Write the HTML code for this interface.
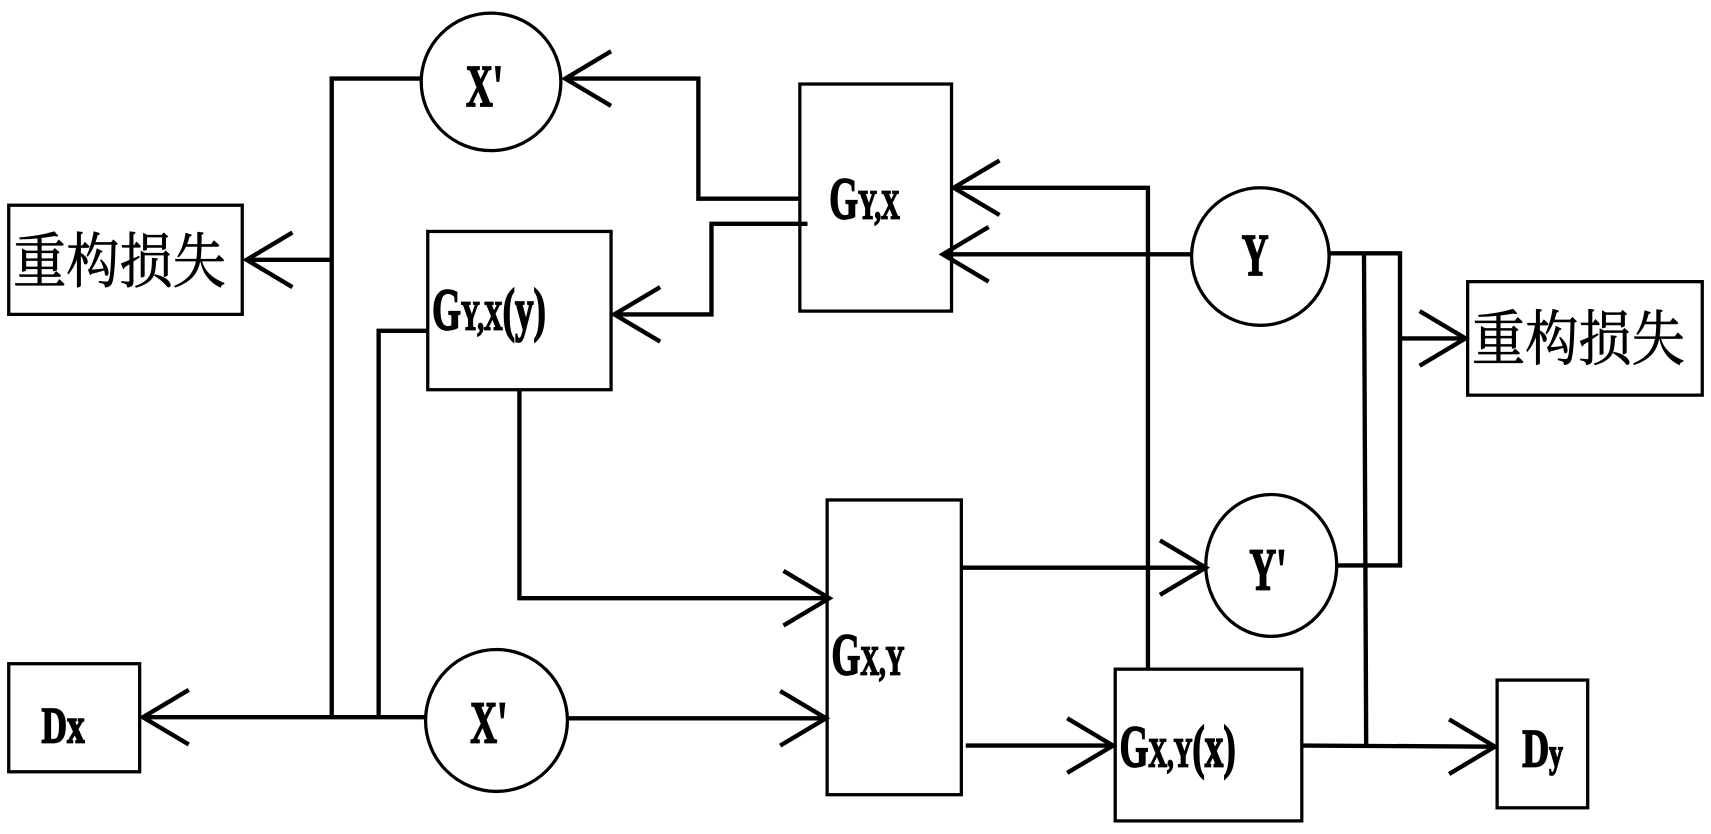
<!DOCTYPE html>
<html><head><meta charset="utf-8"><style>
html,body{margin:0;padding:0;background:#fff;}
svg{display:block;}
text{font-family:"Liberation Serif","Noto Serif CJK SC",serif;font-weight:bold;fill:#000;stroke:#000;stroke-width:1.2;}
.cn{font-family:"Liberation Serif","Noto Serif CJK SC","Noto Sans CJK SC",serif;font-weight:normal;stroke-width:0.6;}
</style></head><body>
<svg width="1711" height="834" viewBox="0 0 1568 764" preserveAspectRatio="none" xmlns="http://www.w3.org/2000/svg">
<g fill="none" stroke="#000" stroke-width="4">
<rect x="8" y="188" width="214" height="100" stroke-width="3"/>
<rect x="733" y="77" width="139" height="208" stroke-width="3"/>
<rect x="392" y="212" width="168" height="145" stroke-width="3"/>
<rect x="758" y="458" width="123" height="270" stroke-width="3"/>
<rect x="8" y="608" width="120" height="99" stroke-width="3"/>
<rect x="1022" y="613" width="171" height="139" stroke-width="3"/>
<rect x="1345" y="258" width="215" height="104" stroke-width="3"/>
<rect x="1372" y="623" width="83" height="117" stroke-width="3"/>
<ellipse cx="450" cy="75" rx="64" ry="63" stroke-width="3"/>
<ellipse cx="455" cy="660" rx="65" ry="65" stroke-width="3"/>
<ellipse cx="1155" cy="235" rx="63" ry="63" stroke-width="3"/>
<ellipse cx="1165" cy="518" rx="60" ry="65" stroke-width="3"/>
<polyline points="387,72 304,72 304,657"/>
<line x1="304" y1="238" x2="226" y2="238"/>
<polyline points="733,182 640,182 640,72 518,72"/>
<polyline points="740,205 652,205 652,288 563,288"/>
<polyline points="392,303 347,303 347,657"/>
<line x1="390" y1="657" x2="131" y2="657"/>
<polyline points="476,357 476,548 760,548"/>
<line x1="520" y1="658" x2="757" y2="658"/>
<line x1="881" y1="520" x2="1105" y2="520"/>
<line x1="885" y1="683" x2="1020" y2="683"/>
<polyline points="1052,613 1052,172 874,172"/>
<line x1="1092" y1="233" x2="864" y2="233"/>
<polyline points="1218,232 1283,232 1283,518 1225,518"/>
<line x1="1283" y1="310" x2="1343" y2="310"/>
<line x1="1250" y1="232" x2="1252" y2="682"/>
<line x1="1193" y1="683" x2="1370" y2="684"/>
<polyline points="560,47 518,72 560,97"/>
<polyline points="268,213 226,238 268,263"/>
<polyline points="605,263 563,288 605,313"/>
<polyline points="173,632 131,657 173,682"/>
<polyline points="718,523 760,548 718,573"/>
<polyline points="715,633 757,658 715,683"/>
<polyline points="1063,495 1105,520 1063,545"/>
<polyline points="978,658 1020,683 978,708"/>
<polyline points="916,147 874,172 916,197"/>
<polyline points="906,208 864,233 906,258"/>
<polyline points="1301,285 1343,310 1301,335"/>
<polyline points="1328,659 1370,684 1328,709"/>
</g>
<text class="cn" transform="translate(12,259) scale(1,1.15)" font-size="48" textLength="195" lengthAdjust="spacingAndGlyphs">重构损失</text>
<text class="cn" transform="translate(1349,330) scale(1,1.15)" font-size="48" textLength="195" lengthAdjust="spacingAndGlyphs">重构损失</text>
<text transform="translate(427,97) scale(0.85,1.35)" font-size="40">X'</text>
<text transform="translate(431,680) scale(0.85,1.35)" font-size="40">X'</text>
<text transform="translate(1138,252) scale(0.85,1.35)" font-size="40">Y</text>
<text transform="translate(1145,540) scale(0.85,1.35)" font-size="40">Y'</text>
<text transform="translate(760,200) scale(0.85,1.35)" font-size="40">G<tspan font-size="28">Y,X</tspan></text>
<text transform="translate(396,302) scale(0.85,1.35)" font-size="40">G<tspan font-size="28">Y,X</tspan>(y)</text>
<text transform="translate(762,618) scale(0.85,1.35)" font-size="40">G<tspan font-size="28">X,Y</tspan></text>
<text transform="translate(1026,702) scale(0.85,1.35)" font-size="40">G<tspan font-size="28">X,Y</tspan>(x)</text>
<text transform="translate(38,680) scale(0.9,1.3)" font-size="36">Dx</text>
<text transform="translate(1395,702) scale(0.9,1.3)" font-size="38">D<tspan font-size="28">y</tspan></text>
</svg>
</body></html>
